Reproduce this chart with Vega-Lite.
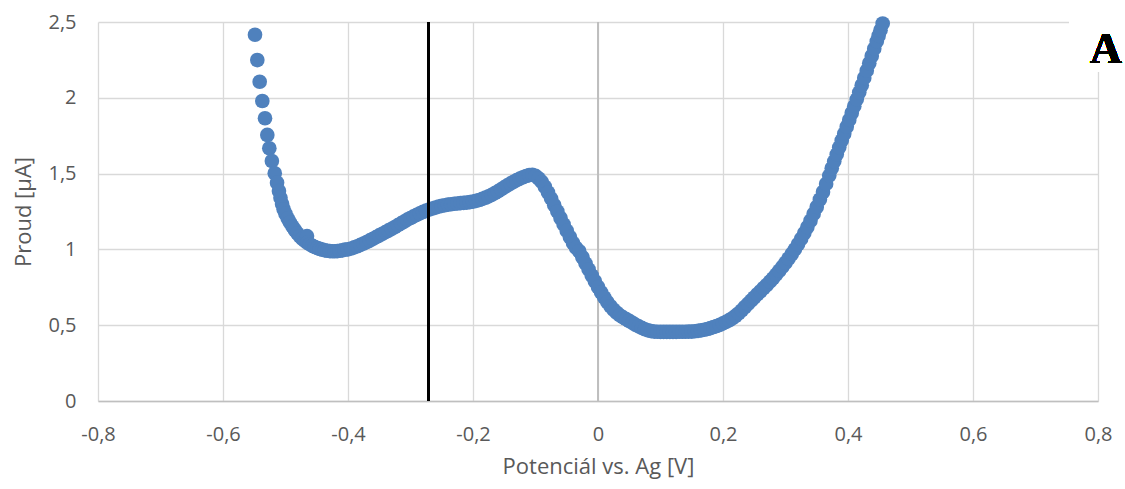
{
  "$schema": "https://vega.github.io/schema/vega-lite/v6.json",
  "width": 1000,
  "height": 379,
  "autosize": {"type": "none"},
  "padding": {"left": 98, "top": 22, "right": 27, "bottom": 88},
  "background": "white",
  "config": {
    "view": {"stroke": null},
    "locale": {"number": {"decimal": ",", "thousands": "\u00a0", "grouping": [3], "currency": ["", " Kč"], "minus": "-"}},
    "axis": {
      "labelFont": "Open Sans", "labelFontSize": 20, "labelColor": "#595959",
      "titleFont": "Open Sans", "titleFontSize": 22, "titleColor": "#595959", "titleFontWeight": "normal",
      "grid": true, "gridColor": "#d9d9d9", "gridWidth": 1.3, "ticks": false, "tickSize": 0
    }
  },
  "data": {"values": [
    {"x": -0.5488, "y": 2.416}, {"x": -0.5451, "y": 2.249}, {"x": -0.5413, "y": 2.106}, {"x": -0.5371, "y": 1.979},
    {"x": -0.5328, "y": 1.865}, {"x": -0.5291, "y": 1.755}, {"x": -0.5259, "y": 1.667}, {"x": -0.5218, "y": 1.583},
    {"x": -0.5172, "y": 1.502}, {"x": -0.5135, "y": 1.44}, {"x": -0.5105, "y": 1.385}, {"x": -0.508, "y": 1.34},
    {"x": -0.5055, "y": 1.3}, {"x": -0.503, "y": 1.265}, {"x": -0.5, "y": 1.235}, {"x": -0.4965, "y": 1.205},
    {"x": -0.493, "y": 1.178}, {"x": -0.489, "y": 1.152}, {"x": -0.485, "y": 1.128}, {"x": -0.481, "y": 1.106},
    {"x": -0.477, "y": 1.087}, {"x": -0.473, "y": 1.07}, {"x": -0.469, "y": 1.056}, {"x": -0.4656, "y": 1.088},
    {"x": -0.465, "y": 1.044}, {"x": -0.461, "y": 1.033}, {"x": -0.457, "y": 1.024}, {"x": -0.453, "y": 1.016},
    {"x": -0.449, "y": 1.009}, {"x": -0.445, "y": 1.003}, {"x": -0.441, "y": 0.998}, {"x": -0.437, "y": 0.994},
    {"x": -0.433, "y": 0.991}, {"x": -0.429, "y": 0.989}, {"x": -0.425, "y": 0.988}, {"x": -0.421, "y": 0.988},
    {"x": -0.417, "y": 0.989}, {"x": -0.413, "y": 0.991}, {"x": -0.409, "y": 0.994}, {"x": -0.405, "y": 0.998},
    {"x": -0.4, "y": 1.0}, {"x": -0.395, "y": 1.006}, {"x": -0.39, "y": 1.013}, {"x": -0.385, "y": 1.021},
    {"x": -0.38, "y": 1.03}, {"x": -0.375, "y": 1.039}, {"x": -0.37, "y": 1.049}, {"x": -0.365, "y": 1.059},
    {"x": -0.36, "y": 1.07}, {"x": -0.355, "y": 1.081}, {"x": -0.35, "y": 1.092}, {"x": -0.345, "y": 1.103},
    {"x": -0.34, "y": 1.114}, {"x": -0.335, "y": 1.125}, {"x": -0.33, "y": 1.136}, {"x": -0.325, "y": 1.148},
    {"x": -0.32, "y": 1.16}, {"x": -0.315, "y": 1.172}, {"x": -0.31, "y": 1.184}, {"x": -0.305, "y": 1.196},
    {"x": -0.3, "y": 1.207}, {"x": -0.295, "y": 1.218}, {"x": -0.29, "y": 1.228}, {"x": -0.285, "y": 1.238},
    {"x": -0.28, "y": 1.247}, {"x": -0.275, "y": 1.256}, {"x": -0.27, "y": 1.263}, {"x": -0.265, "y": 1.27},
    {"x": -0.26, "y": 1.276}, {"x": -0.255, "y": 1.282}, {"x": -0.25, "y": 1.287}, {"x": -0.245, "y": 1.291},
    {"x": -0.24, "y": 1.295}, {"x": -0.235, "y": 1.298}, {"x": -0.23, "y": 1.301}, {"x": -0.225, "y": 1.303},
    {"x": -0.22, "y": 1.305}, {"x": -0.215, "y": 1.307}, {"x": -0.21, "y": 1.309}, {"x": -0.205, "y": 1.312},
    {"x": -0.2, "y": 1.315}, {"x": -0.195, "y": 1.32}, {"x": -0.19, "y": 1.326}, {"x": -0.185, "y": 1.333},
    {"x": -0.18, "y": 1.341}, {"x": -0.175, "y": 1.35}, {"x": -0.17, "y": 1.36}, {"x": -0.165, "y": 1.371},
    {"x": -0.16, "y": 1.383}, {"x": -0.155, "y": 1.396}, {"x": -0.15, "y": 1.409}, {"x": -0.145, "y": 1.422},
    {"x": -0.14, "y": 1.434}, {"x": -0.135, "y": 1.446}, {"x": -0.13, "y": 1.457}, {"x": -0.125, "y": 1.467},
    {"x": -0.12, "y": 1.476}, {"x": -0.115, "y": 1.484}, {"x": -0.11, "y": 1.49}, {"x": -0.105, "y": 1.492},
    {"x": -0.1, "y": 1.485}, {"x": -0.095, "y": 1.468}, {"x": -0.09, "y": 1.445}, {"x": -0.085, "y": 1.413},
    {"x": -0.08, "y": 1.375}, {"x": -0.075, "y": 1.335}, {"x": -0.07, "y": 1.292}, {"x": -0.065, "y": 1.25},
    {"x": -0.06, "y": 1.207}, {"x": -0.055, "y": 1.165}, {"x": -0.05, "y": 1.123}, {"x": -0.045, "y": 1.082},
    {"x": -0.04, "y": 1.042}, {"x": -0.035, "y": 1.01}, {"x": -0.03, "y": 0.988}, {"x": -0.025, "y": 0.948},
    {"x": -0.02, "y": 0.908}, {"x": -0.015, "y": 0.868}, {"x": -0.01, "y": 0.828}, {"x": -0.005, "y": 0.79},
    {"x": 0.0, "y": 0.752}, {"x": 0.005, "y": 0.716}, {"x": 0.01, "y": 0.683}, {"x": 0.015, "y": 0.652},
    {"x": 0.02, "y": 0.625}, {"x": 0.025, "y": 0.602}, {"x": 0.03, "y": 0.582}, {"x": 0.035, "y": 0.565},
    {"x": 0.04, "y": 0.552}, {"x": 0.045, "y": 0.54}, {"x": 0.05, "y": 0.528}, {"x": 0.055, "y": 0.516},
    {"x": 0.06, "y": 0.503}, {"x": 0.065, "y": 0.492}, {"x": 0.07, "y": 0.482}, {"x": 0.075, "y": 0.473},
    {"x": 0.08, "y": 0.466}, {"x": 0.085, "y": 0.461}, {"x": 0.09, "y": 0.458}, {"x": 0.095, "y": 0.457},
    {"x": 0.1, "y": 0.456}, {"x": 0.105, "y": 0.456}, {"x": 0.11, "y": 0.456}, {"x": 0.115, "y": 0.456},
    {"x": 0.12, "y": 0.456}, {"x": 0.125, "y": 0.456}, {"x": 0.13, "y": 0.457}, {"x": 0.135, "y": 0.457},
    {"x": 0.14, "y": 0.457}, {"x": 0.145, "y": 0.458}, {"x": 0.15, "y": 0.458}, {"x": 0.155, "y": 0.46},
    {"x": 0.16, "y": 0.463}, {"x": 0.165, "y": 0.466}, {"x": 0.17, "y": 0.47}, {"x": 0.175, "y": 0.475},
    {"x": 0.18, "y": 0.481}, {"x": 0.185, "y": 0.488}, {"x": 0.19, "y": 0.495}, {"x": 0.195, "y": 0.503},
    {"x": 0.2, "y": 0.512}, {"x": 0.205, "y": 0.522}, {"x": 0.21, "y": 0.533}, {"x": 0.215, "y": 0.546},
    {"x": 0.22, "y": 0.561}, {"x": 0.225, "y": 0.578}, {"x": 0.23, "y": 0.598}, {"x": 0.235, "y": 0.62},
    {"x": 0.24, "y": 0.641}, {"x": 0.245, "y": 0.662}, {"x": 0.25, "y": 0.683}, {"x": 0.255, "y": 0.704},
    {"x": 0.26, "y": 0.724}, {"x": 0.265, "y": 0.745}, {"x": 0.27, "y": 0.765}, {"x": 0.275, "y": 0.787},
    {"x": 0.28, "y": 0.809}, {"x": 0.285, "y": 0.834}, {"x": 0.29, "y": 0.859}, {"x": 0.295, "y": 0.885},
    {"x": 0.3, "y": 0.912}, {"x": 0.305, "y": 0.94}, {"x": 0.31, "y": 0.97}, {"x": 0.315, "y": 1.0},
    {"x": 0.32, "y": 1.034}, {"x": 0.325, "y": 1.069}, {"x": 0.33, "y": 1.107}, {"x": 0.335, "y": 1.147},
    {"x": 0.34, "y": 1.189}, {"x": 0.345, "y": 1.234}, {"x": 0.35, "y": 1.28}, {"x": 0.355, "y": 1.329},
    {"x": 0.36, "y": 1.379}, {"x": 0.365, "y": 1.432}, {"x": 0.37, "y": 1.487}, {"x": 0.374, "y": 1.535},
    {"x": 0.378, "y": 1.581}, {"x": 0.382, "y": 1.627}, {"x": 0.386, "y": 1.673}, {"x": 0.39, "y": 1.718},
    {"x": 0.394, "y": 1.763}, {"x": 0.398, "y": 1.809}, {"x": 0.402, "y": 1.854}, {"x": 0.406, "y": 1.9},
    {"x": 0.41, "y": 1.945}, {"x": 0.414, "y": 1.99}, {"x": 0.418, "y": 2.036}, {"x": 0.422, "y": 2.083},
    {"x": 0.426, "y": 2.131}, {"x": 0.43, "y": 2.179}, {"x": 0.434, "y": 2.228}, {"x": 0.438, "y": 2.276},
    {"x": 0.442, "y": 2.324}, {"x": 0.446, "y": 2.372}, {"x": 0.449, "y": 2.409}, {"x": 0.452, "y": 2.446},
    {"x": 0.4555, "y": 2.49}
  ]},
  "layer": [
    {
      "mark": {"type": "rule", "color": "#bfbfbf", "strokeWidth": 1.3},
      "encoding": {"x": {"datum": 0, "type": "quantitative"}}
    },
    {
      "mark": {"type": "circle", "color": "#4f81bd", "opacity": 1, "size": 215},
      "encoding": {
        "x": {"field": "x", "type": "quantitative",
          "scale": {"domain": [-0.8, 0.8], "nice": false, "zero": false},
          "axis": {"title": "Potenciál vs. Ag [V]", "values": [-0.8, -0.6, -0.4, -0.2, 0, 0.2, 0.4, 0.6, 0.8],
            "format": "~g", "grid": true, "labelPadding": 23, "titlePadding": 12, "domainColor": "#bfbfbf", "domainWidth": 1.3, "labelFlush": false}},
        "y": {"field": "y", "type": "quantitative",
          "scale": {"domain": [0, 2.5], "nice": false},
          "axis": {"title": "Proud [µA]", "values": [0, 0.5, 1, 1.5, 2, 2.5], "format": "~g", "grid": true,
            "labelPadding": 22, "titlePadding": 12, "domain": false}}
      }
    },
    {
      "mark": {"type": "rule", "color": "black", "strokeWidth": 1.2},
      "encoding": {"x": {"datum": -0.2712, "type": "quantitative"}}
    },
    {
      "mark": {"type": "rect", "color": "white", "clip": false},
      "encoding": {
        "x": {"datum": 0.7536, "type": "quantitative"},
        "x2": {"datum": 0.812},
        "y": {"datum": 2.17, "type": "quantitative"},
        "y2": {"datum": 2.53}
      }
    },
    {
      "mark": {"type": "text", "text": "A", "font": "Liberation Serif", "fontWeight": "bold", "fontSize": 44,
        "color": "black", "align": "center", "baseline": "alphabetic", "dx": 8, "dy": 41},
      "encoding": {
        "x": {"datum": 0.8, "type": "quantitative"},
        "y": {"datum": 2.5, "type": "quantitative"}
      }
    }
  ]
}
